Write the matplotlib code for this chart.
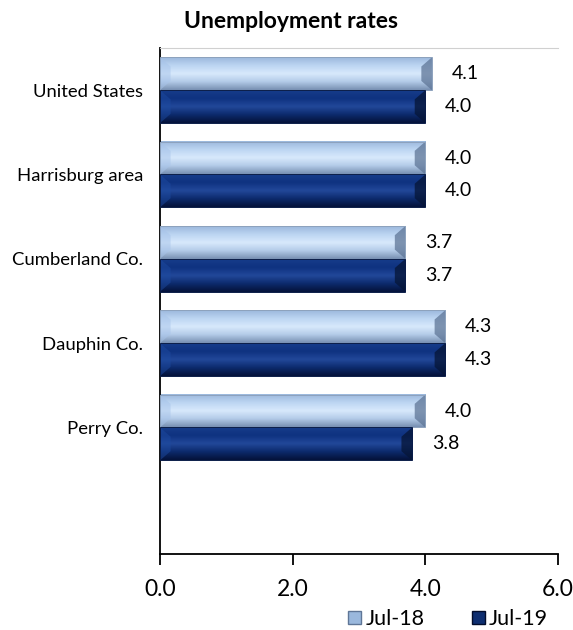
import matplotlib.pyplot as plt
import numpy as np
from matplotlib.patches import Polygon, Rectangle
from matplotlib.colors import LinearSegmentedColormap

WIDTH = 573
HEIGHT = 630

regions = ["United States", "Harrisburg area", "Cumberland Co.", "Dauphin Co.", "Perry Co."]
jul18 = [4.1, 4.0, 3.7, 4.3, 4.0]
jul19 = [4.0, 4.0, 3.7, 4.3, 3.8]
series_names = ["Jul-18", "Jul-19"]
xticks = [0.0, 2.0, 4.0, 6.0]

plt.rcParams['font.family'] = ['Lato', 'DejaVu Sans']

# vertical shading of each bar: top edge -> middle -> bottom edge
light_cmap = LinearSegmentedColormap.from_list("l18", ["#9bb8dc", "#bcd5f2", "#d8e9fc", "#b3cbe8", "#7890b2"])
dark_cmap = LinearSegmentedColormap.from_list("l19", ["#163c8a", "#0f3280", "#22489a", "#0c2a6c", "#04123a"])

fig = plt.figure(figsize=(WIDTH / 100, HEIGHT / 100), dpi=100)
ax = fig.add_axes([160 / WIDTH, 1 - 554 / HEIGHT, 398 / WIDTH, 506 / HEIGHT])

bh = 0.39
y = np.arange(len(regions))
grad = np.linspace(0, 1, 64).reshape(-1, 1)


def bevel_bar(ax, yc, w, h, cmap, left_col, right_col, edge):
    top, bot = yc - h / 2, yc + h / 2
    ax.imshow(grad, cmap=cmap, aspect='auto', extent=[0, w, bot, top], zorder=2, interpolation='bicubic')
    d = h * 0.28
    dx = 0.16
    ax.add_patch(Polygon([[w - dx, top + d], [w, top], [w, bot], [w - dx, bot - d]],
                         closed=True, facecolor=right_col, alpha=0.75, lw=0, zorder=3))
    ax.add_patch(Polygon([[0, top], [dx, top + d], [dx, bot - d], [0, bot]],
                         closed=True, facecolor=left_col, alpha=0.5, lw=0, zorder=3))
    ax.add_patch(Rectangle((0, top), w, h, fill=False, edgecolor=edge, lw=0.7, zorder=4))


for i in range(len(regions)):
    y18 = y[i] - bh / 2
    y19 = y[i] + bh / 2
    bevel_bar(ax, y18, jul18[i], bh, light_cmap, "#a8c4ea", "#5f7697", "#8da2bd")
    bevel_bar(ax, y19, jul19[i], bh, dark_cmap, "#1d4aa0", "#061536", "#0a1c48")
    ax.text(jul18[i] + 0.3, y18, f"{jul18[i]:.1f}", va='center', ha='left', fontsize=14)
    ax.text(jul19[i] + 0.3, y19, f"{jul19[i]:.1f}", va='center', ha='left', fontsize=14)

ax.set_xlim(0, 6)
ax.set_ylim(5.5, -0.5)
ax.set_yticks(y)
ax.set_yticklabels(regions, fontsize=13.3)
ax.set_xticks(xticks)
ax.set_xticklabels([f"{t:.1f}" for t in xticks], fontsize=16.5)
ax.tick_params(axis='y', length=0, pad=12)
ax.tick_params(axis='x', length=8, width=1.3, pad=10)

ax.spines['right'].set_visible(False)
ax.spines['top'].set_color("#d0d0d0")
ax.spines['left'].set_linewidth(1.3)
ax.spines['bottom'].set_linewidth(1.3)

fig.text(291 / WIDTH, 1 - 22 / HEIGHT, "Unemployment rates", ha='center', va='center',
         fontsize=16.5, fontweight='bold')

h1 = Rectangle((0, 0), 1, 1, facecolor="#9ab8dd", edgecolor="#5f7697")
h2 = Rectangle((0, 0), 1, 1, facecolor="#0e2e70", edgecolor="#020c2a")
fig.legend([h1, h2], series_names, loc='center left', bbox_to_anchor=(333 / WIDTH, 1 - 619 / HEIGHT), ncol=2,
           frameon=False, fontsize=15.5, handlelength=0.6, handleheight=0.6,
           handletextpad=0.2, columnspacing=2.2, borderpad=0.2)

fig.savefig("out.png", dpi=100)
